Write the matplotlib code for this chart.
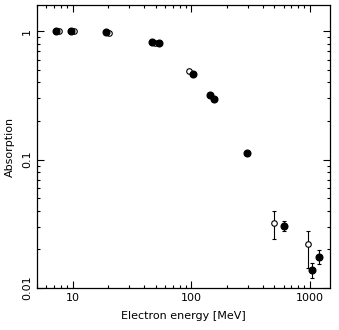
import matplotlib
matplotlib.use("Agg")
import matplotlib.pyplot as plt
from matplotlib.ticker import LogLocator, NullFormatter, FixedLocator, FixedFormatter

# Filled points (with error bars where visible)
filled_energy = [7.3, 9.6, 19.2, 47, 53.2, 103.5, 144, 155, 298, 603, 1033, 1197]
filled_absorption = [1.0, 1.0, 0.977, 0.826, 0.81, 0.466, 0.321, 0.299, 0.112, 0.0306, 0.0139, 0.0174]
filled_err_low = [0, 0, 0, 0, 0, 0, 0, 0, 0, 0.0027, 0.0020, 0.0020]
filled_err_high = [0, 0, 0, 0, 0, 0, 0, 0, 0, 0.0028, 0.0018, 0.0025]

# Open points
open_energy = [7.66, 10.2, 20.1, 49.9, 95.7, 499, 968]
open_absorption = [1.0, 1.0, 0.97, 0.81, 0.494, 0.0321, 0.022]
open_err_low = [0, 0, 0, 0, 0, 0.0079, 0.0076]
open_err_high = [0, 0, 0, 0, 0, 0.0079, 0.0058]

fig = plt.figure(figsize=(3.39, 3.30), dpi=100)
ax = fig.add_axes([0.109, 0.127, 0.864, 0.858])

ax.errorbar(open_energy, open_absorption, yerr=[open_err_low, open_err_high],
            fmt="o", ms=4, mfc="white", mec="black", mew=0.8, ecolor="black",
            elinewidth=0.8, capsize=1.5, capthick=0.8)
ax.errorbar(filled_energy, filled_absorption, yerr=[filled_err_low, filled_err_high],
            fmt="o", ms=4.8, mfc="black", mec="black", ecolor="black",
            elinewidth=0.8, capsize=1.5, capthick=0.8)

ax.set_xscale("log")
ax.set_yscale("log")
ax.set_xlim(5, 1475)
ax.set_ylim(0.01, 1.6)

ax.xaxis.set_major_locator(FixedLocator([10, 100, 1000]))
ax.xaxis.set_major_formatter(FixedFormatter(["10", "100", "1000"]))
ax.xaxis.set_minor_locator(LogLocator(base=10, subs=range(2, 10)))
ax.xaxis.set_minor_formatter(NullFormatter())
ax.yaxis.set_major_locator(FixedLocator([0.01, 0.1, 1]))
ax.yaxis.set_major_formatter(FixedFormatter(["0.01", "0.1", "1"]))
ax.yaxis.set_minor_locator(LogLocator(base=10, subs=range(2, 10)))
ax.yaxis.set_minor_formatter(NullFormatter())

ax.tick_params(which="both", direction="in", top=True, right=True, width=0.8, labelsize=8)
ax.tick_params(which="major", length=5)
ax.tick_params(which="minor", length=2.5)
for label in ax.get_yticklabels():
    label.set_rotation(90)
    label.set_va("center")

for spine in ax.spines.values():
    spine.set_linewidth(0.9)

ax.set_xlabel("Electron energy [MeV]", fontsize=8, labelpad=6)
ax.set_ylabel("Absorption", fontsize=8, labelpad=5)

fig.savefig("out.png", dpi=100)
